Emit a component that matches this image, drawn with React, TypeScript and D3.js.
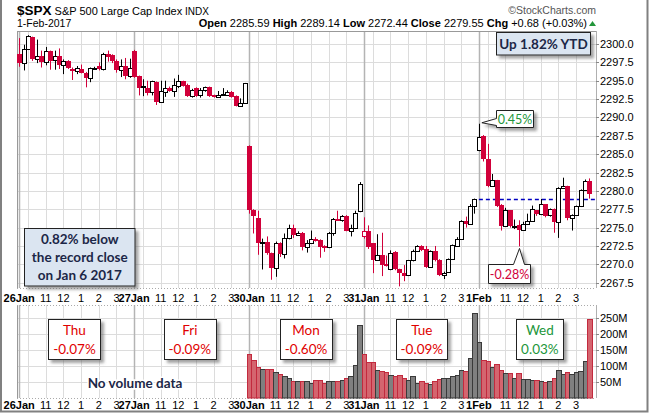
import React, { useEffect, useRef } from 'react';
import * as d3 from 'd3';

// 15-minute bars, 26 per session, 26 Jan 2017 - 1 Feb 2017
const opens = [
  2298.6, 2297.4, 2299.3, 2300.9, 2297.9, 2298.4, 2297.6, 2299.0, 2297.8, 2298.4, 2297.1, 2297.7, 2296.6,
  2296.3, 2296.6, 2296.1, 2295.4, 2296.7, 2297.0, 2296.55, 2298.6, 2298.5, 2297.7, 2296.45, 2297.0, 2295.6,
  2299.1, 2295.6, 2294.3, 2294.0, 2293.4, 2294.8, 2292.1, 2293.5, 2294.05, 2293.6, 2294.3, 2294.95, 2294.4,
  2292.95, 2294.0, 2293.1, 2293.7, 2294.1, 2293.05, 2292.8, 2293.1, 2293.1, 2293.5, 2292.9, 2291.6, 2292.0,
  2286.1, 2277.4, 2276.3, 2272.9, 2273.1, 2271.5, 2269.55, 2272.9, 2271.45, 2273.6, 2274.9, 2274.05, 2274.3,
  2272.35, 2272.95, 2273.5, 2273.3, 2272.5, 2272.3, 2274.3, 2276.2, 2276.0, 2276.6, 2274.55, 2274.9, 2277.2,
  2273.9, 2274.6, 2272.9, 2270.6, 2271.3, 2270.0, 2269.4, 2271.7, 2269.3, 2268.8, 2268.5, 2270.55, 2271.8,
  2272.5, 2272.05, 2269.6, 2271.8, 2270.6, 2268.5, 2268.95, 2270.7, 2272.5, 2273.5, 2275.9, 2275.55, 2278.0,
  2285.59, 2287.5, 2284.4, 2280.7, 2281.45, 2278.05, 2275.2, 2277.35, 2275.2, 2275.4, 2274.7, 2275.55, 2275.9,
  2277.35, 2276.8, 2278.15, 2276.7, 2277.5, 2275.8, 2280.45, 2280.6, 2276.3, 2276.7, 2277.9, 2280.1, 2281.3,
];
const highs = [
  2300.8, 2299.9, 2301.2, 2301.0, 2300.6, 2299.1, 2299.6, 2299.1, 2299.1, 2299.4, 2297.9, 2297.8, 2296.8,
  2297.0, 2297.2, 2296.2, 2296.8, 2296.9, 2297.5, 2298.8, 2299.1, 2298.6, 2297.9, 2297.9, 2298.1, 2298.0,
  2299.2, 2295.7, 2295.2, 2295.0, 2295.0, 2294.9, 2295.0, 2295.0, 2294.2, 2295.3, 2295.8, 2295.0, 2294.6,
  2293.9, 2294.1, 2294.0, 2294.2, 2294.2, 2293.1, 2293.6, 2294.0, 2293.7, 2293.6, 2293.0, 2292.6, 2294.7,
  2286.2, 2277.5, 2277.3, 2273.5, 2273.8, 2271.6, 2273.1, 2273.0, 2274.2, 2275.4, 2275.4, 2274.5, 2274.4,
  2273.3, 2274.6, 2273.7, 2273.4, 2272.6, 2274.4, 2276.3, 2277.3, 2276.7, 2276.7, 2275.4, 2277.3, 2281.2,
  2276.4, 2275.3, 2272.9, 2274.1, 2274.3, 2271.2, 2271.9, 2271.8, 2269.4, 2269.9, 2270.6, 2272.0, 2272.6,
  2272.6, 2272.5, 2271.9, 2272.5, 2270.7, 2269.0, 2270.8, 2272.7, 2273.7, 2276.0, 2276.5, 2278.2, 2278.95,
  2289.14, 2287.6, 2286.4, 2282.3, 2281.5, 2278.2, 2277.7, 2277.4, 2276.1, 2276.0, 2275.8, 2276.9, 2278.0,
  2277.4, 2278.9, 2278.2, 2277.6, 2277.6, 2280.5, 2281.8, 2280.7, 2276.8, 2278.0, 2280.2, 2281.55, 2281.7,
];
const lows = [
  2296.9, 2296.4, 2299.2, 2297.7, 2297.4, 2296.8, 2297.1, 2296.5, 2296.5, 2296.6, 2295.9, 2296.6, 2295.1,
  2295.9, 2296.0, 2294.1, 2294.8, 2296.6, 2296.4, 2296.4, 2297.6, 2297.4, 2296.1, 2295.5, 2295.2, 2295.4,
  2295.4, 2293.0, 2292.9, 2293.0, 2293.0, 2291.7, 2292.0, 2292.8, 2293.5, 2292.8, 2294.0, 2294.2, 2292.8,
  2292.7, 2292.8, 2292.7, 2293.5, 2292.8, 2292.7, 2292.7, 2293.0, 2293.0, 2292.7, 2291.5, 2291.5, 2291.9,
  2276.9, 2274.2, 2271.3, 2269.3, 2271.3, 2267.9, 2268.3, 2271.0, 2270.8, 2273.4, 2273.6, 2273.9, 2271.9,
  2271.6, 2272.8, 2273.1, 2270.9, 2271.7, 2272.2, 2273.9, 2275.9, 2275.8, 2274.5, 2273.8, 2274.8, 2277.1,
  2273.5, 2272.1, 2268.8, 2270.5, 2268.4, 2269.7, 2269.2, 2269.2, 2267.0, 2267.7, 2268.4, 2270.4, 2271.7,
  2271.8, 2269.5, 2269.5, 2270.4, 2268.4, 2268.0, 2268.9, 2270.6, 2272.4, 2273.4, 2275.0, 2275.4, 2276.9,
  2285.4, 2284.0, 2280.5, 2280.6, 2277.8, 2274.6, 2275.1, 2275.0, 2274.8, 2272.44, 2274.6, 2275.4, 2275.8,
  2276.6, 2276.7, 2276.4, 2276.5, 2274.3, 2273.6, 2280.3, 2276.0, 2274.6, 2276.6, 2277.8, 2280.0, 2278.95,
];
const closes = [
  2297.4, 2299.3, 2301.1, 2297.9, 2298.3, 2297.6, 2299.0, 2297.7, 2298.3, 2297.1, 2297.7, 2296.7, 2296.3,
  2296.7, 2296.0, 2295.4, 2296.7, 2296.8, 2296.55, 2298.6, 2298.2, 2297.7, 2296.4, 2297.0, 2295.6, 2296.68,
  2295.5, 2294.0, 2294.0, 2293.3, 2294.9, 2292.1, 2293.6, 2294.0, 2293.6, 2294.4, 2294.95, 2294.3, 2292.95,
  2293.8, 2292.95, 2293.8, 2294.1, 2292.95, 2292.8, 2293.1, 2293.15, 2293.5, 2292.8, 2291.6, 2292.0, 2294.69,
  2277.45, 2276.6, 2272.9, 2273.0, 2271.5, 2269.55, 2272.9, 2271.45, 2273.6, 2274.9, 2274.05, 2274.3, 2272.35,
  2272.95, 2273.5, 2273.2, 2272.35, 2272.3, 2274.3, 2276.2, 2276.0, 2276.6, 2274.55, 2274.9, 2277.05, 2280.9,
  2274.6, 2272.3, 2270.6, 2271.3, 2269.95, 2269.8, 2271.6, 2269.3, 2268.8, 2268.4, 2270.55, 2271.8, 2272.5,
  2271.9, 2269.6, 2271.8, 2270.55, 2268.5, 2268.8, 2270.7, 2272.6, 2273.5, 2275.9, 2275.55, 2278.0, 2278.87,
  2287.3, 2284.3, 2280.7, 2281.45, 2277.9, 2275.2, 2277.35, 2275.2, 2275.25, 2274.7, 2275.55, 2275.9, 2277.5,
  2276.8, 2278.15, 2276.55, 2277.5, 2275.8, 2280.45, 2280.6, 2276.3, 2276.7, 2277.9, 2280.1, 2281.3, 2279.55,
];
const priorClose = 2298.37;

// volume (millions), only available from 30 Jan
const volumeStart = 52;
const volumes = [
  137, 118, 98, 92, 90, 90, 80, 76, 68, 62, 54, 54, 54, 54, 48, 57, 57, 46, 53, 53, 53, 56, 61, 69, 102, 228,
  137, 112, 112, 89, 85, 80, 71, 69, 71, 61, 56, 69, 46, 53, 48, 43, 53, 58, 63, 64, 69, 71, 89, 85, 124, 265,
  174, 119, 116, 96, 105, 89, 77, 77, 64, 77, 58, 58, 56, 56, 53, 49, 53, 61, 87, 74, 80, 74, 82, 84, 116, 246,
];

const dayLabels = ['26Jan', '27Jan', '30Jan', '31Jan', '1Feb'];
const hourLabels = ['11', '12', '1', '2', '3'];
const hourBars = [6, 10, 14, 18, 22];
const gridBars = [2, 6, 10, 14, 18, 22];
const priceTicks = d3.range(2267.5, 2300.01, 2.5);
const volumeTicks = [50, 100, 150, 200, 250];

const dayNames = ['Thu', 'Fri', 'Mon', 'Tue', 'Wed'];
const dayChanges = ['-0.07%', '-0.09%', '-0.60%', '-0.09%', '0.03%'];
const dayNoteBars = [13.0, 39.1, 65.4, 91.6, 118.3];
const dayNoteWidths = [52, 52, 52, 51, 47];
const recordNote = ['0.82% below', 'the record close', 'on Jan 6 2017'];
const ytdNote = 'Up 1.82% YTD';
const highNote = '0.45%';
const lowNote = '-0.28%';

const BARS_PER_DAY = 26;
const RED = '#d1003a';
const GREEN = '#22963a';
const NAVY = '#1c2747';
const AXIS_FONT = "'Liberation Sans', Arial, sans-serif";
const NOTE_FONT = "Lato, 'Open Sans', sans-serif";

const App: React.FC = () => {
  const svgRef = useRef<SVGSVGElement>(null);

  useEffect(() => {
    if (!svgRef.current) return;
    d3.select(svgRef.current).selectAll('*').remove();

    const width = 650;
    const height = 415;
    const left = 17;
    const right = 596;
    const priceTop = 31;
    const priceBottom = 288;
    const volTop = 305;
    const volBottom = 398;
    const n = closes.length;

    const svg = d3.select(svgRef.current).attr('width', width).attr('height', height);

    const defs = svg.append('defs');
    const f = defs.append('filter').attr('id', 'shadow').attr('x', '-20%').attr('y', '-20%').attr('width', '150%').attr('height', '160%');
    f.append('feDropShadow').attr('dx', 3).attr('dy', 3).attr('stdDeviation', 1.5)
      .attr('flood-color', '#666').attr('flood-opacity', 0.6);

    svg.append('rect').attr('width', width).attr('height', height).attr('fill', '#fff');

    const x = d3.scaleLinear().domain([0, n + 1]).range([left, right]);
    const cx = (i: number) => x(i + 0.5);
    const y = d3.scaleLinear().domain([2267.5, 2300]).range([282.7, 44]);
    const yv = d3.scaleLinear().domain([0, 250]).range([volBottom, 318]);

    // ---- grid ----
    const grid = svg.append('g');
    const panels = [[priceTop, priceBottom], [volTop, volBottom]];
    priceTicks.forEach(t => {
      grid.append('line').attr('x1', left).attr('x2', right)
        .attr('y1', Math.round(y(t)) + 0.5).attr('y2', Math.round(y(t)) + 0.5)
        .attr('stroke', '#dcdcdc');
    });
    volumeTicks.forEach(t => {
      grid.append('line').attr('x1', left).attr('x2', right)
        .attr('y1', Math.round(yv(t)) + 0.5).attr('y2', Math.round(yv(t)) + 0.5)
        .attr('stroke', '#dcdcdc');
    });
    dayLabels.forEach((_, d) => {
      gridBars.forEach(b => {
        const gx = Math.round(cx(d * BARS_PER_DAY + b)) + 0.5;
        panels.forEach(([t, btm]) => {
          grid.append('line').attr('x1', gx).attr('x2', gx).attr('y1', t).attr('y2', btm).attr('stroke', '#dcdcdc');
        });
      });
      const dx = Math.round(cx(d * BARS_PER_DAY)) + 0.5;
      panels.forEach(([t, btm]) => {
        grid.append('line').attr('x1', dx).attr('x2', dx).attr('y1', t).attr('y2', btm)
          .attr('stroke', '#b4b4b4').attr('stroke-width', 1.5);
      });
    });

    // ---- panel borders ----
    const borders = svg.append('g').attr('fill', 'none');
    borders.append('line').attr('x1', left).attr('x2', right).attr('y1', priceTop + 0.5).attr('y2', priceTop + 0.5).attr('stroke', '#999');
    [[priceTop, priceBottom], [volTop, volBottom]].forEach(([t, btm]) => {
      borders.append('line').attr('x1', left + 0.5).attr('x2', left + 0.5).attr('y1', t).attr('y2', btm).attr('stroke', '#999');
      borders.append('line').attr('x1', right + 0.5).attr('x2', right + 0.5).attr('y1', t).attr('y2', btm).attr('stroke', '#b0b0b0');
    });
    [priceBottom, volTop, volBottom].forEach(yy => {
      borders.append('line').attr('x1', left).attr('x2', right).attr('y1', yy + 0.5).attr('y2', yy + 0.5)
        .attr('stroke', '#aaa').attr('stroke-dasharray', '1,2');
    });

    // previous close line
    const pcY = Math.round(y(closes[4 * BARS_PER_DAY - 1])) + 0.5;
    svg.append('line').attr('x1', cx(4 * BARS_PER_DAY)).attr('x2', right).attr('y1', pcY).attr('y2', pcY)
      .attr('stroke', '#0000c0').attr('stroke-width', 1.3).attr('stroke-dasharray', '4,3');

    // ---- candles ----
    const cg = svg.append('g');
    d3.range(n).forEach(i => {
      const o = opens[i], c = closes[i];
      const pc = i === 0 ? priorClose : closes[i - 1];
      const col = c < pc ? RED : '#000';
      const hollow = c >= o;
      const xc = Math.round(cx(i));
      const x0 = xc - 2;
      cg.append('line').attr('x1', xc + 0.5).attr('x2', xc + 0.5)
        .attr('y1', y(highs[i])).attr('y2', y(lows[i])).attr('stroke', col);
      const top = Math.round(y(Math.max(o, c)));
      const bot = Math.round(y(Math.min(o, c)));
      if (hollow) {
        cg.append('rect').attr('x', x0 + 0.5).attr('y', top + 0.5).attr('width', 4)
          .attr('height', Math.max(1, bot - top)).attr('fill', '#fff').attr('stroke', col);
      } else {
        cg.append('rect').attr('x', x0).attr('y', top).attr('width', 5)
          .attr('height', Math.max(2, bot - top)).attr('fill', col);
      }
    });

    // ---- volume ----
    const vg = svg.append('g');
    volumes.forEach((v, k) => {
      const i = volumeStart + k;
      const up = closes[i] >= closes[i - 1];
      const x0 = Math.round(x(i)) + 0.5;
      const x1 = Math.round(x(i + 1)) + 0.5;
      const top = Math.round(yv(v)) + 0.5;
      vg.append('rect').attr('x', x0).attr('y', top).attr('width', x1 - x0).attr('height', volBottom - top)
        .attr('fill', up ? '#808080' : '#d4656f').attr('stroke', up ? '#3a3a3a' : '#c22a3e');
    });

    // ---- axes text ----
    const ax = svg.append('g').style('font-family', AXIS_FONT).style('font-size', '11px').attr('fill', '#000');
    priceTicks.forEach(t => {
      ax.append('line').attr('x1', right).attr('x2', right + 3).attr('y1', Math.round(y(t)) + 0.5).attr('y2', Math.round(y(t)) + 0.5).attr('stroke', '#888');
      ax.append('text').attr('x', 600).attr('y', y(t) + 4).text(d3.format('.1f')(t));
    });
    volumeTicks.forEach(t => {
      ax.append('line').attr('x1', right).attr('x2', right + 3).attr('y1', Math.round(yv(t)) + 0.5).attr('y2', Math.round(yv(t)) + 0.5).attr('stroke', '#888');
      ax.append('text').attr('x', 600).attr('y', yv(t) + 4).text(`${t}M`);
    });
    [301.5, 409].forEach(by => {
      dayLabels.forEach((lab, d) => {
        ax.append('text').attr('x', cx(d * BARS_PER_DAY)).attr('y', by).attr('text-anchor', 'middle')
          .attr('font-weight', 'bold').text(lab);
        hourBars.forEach((b, h) => {
          ax.append('text').attr('x', cx(d * BARS_PER_DAY + b)).attr('y', by).attr('text-anchor', 'middle')
            .text(hourLabels[h]);
        });
      });
    });

    // ---- header ----
    const hd = svg.append('g').style('font-family', AXIS_FONT);
    const t1 = hd.append('text').attr('x', 17).attr('y', 14.5);
    t1.append('tspan').attr('font-weight', 'bold').style('font-size', '13.5px').text('$SPX');
    t1.append('tspan').style('font-size', '11px').text(' S&P 500 Large Cap Index');
    t1.append('tspan').style('font-size', '10px').text('  INDX');
    hd.append('text').attr('x', right).attr('y', 14).attr('text-anchor', 'end').style('font-size', '10.5px')
      .attr('fill', '#555').text('\u00a9StockCharts.com');
    hd.append('text').attr('x', 17).attr('y', 27).style('font-size', '10.5px').text('1-Feb-2017');

    const day = d3.range(4 * BARS_PER_DAY, n);
    const dOpen = opens[day[0]];
    const dHigh = d3.max(day, i => highs[i]) as number;
    const dLow = d3.min(day, i => lows[i]) as number;
    const dClose = closes[n - 1];
    const chg = dClose - closes[day[0] - 1];
    const pct = (chg / closes[day[0] - 1]) * 100;
    const t2 = hd.append('text').attr('x', 587).attr('y', 27).attr('text-anchor', 'end').style('font-size', '11px');
    const f2 = d3.format('.2f');
    [['Open', f2(dOpen)], ['High', f2(dHigh)], ['Low', f2(dLow)], ['Close', f2(dClose)],
      ['Chg', `+${f2(chg)} (+${f2(pct)}%)`]].forEach(([k, v], j) => {
      t2.append('tspan').attr('font-weight', 'bold').text((j ? '  ' : '') + k + ' ');
      t2.append('tspan').text(v);
    });
    hd.append('path').attr('d', 'M589,26 L596,26 L592.5,21 Z').attr('fill', GREEN);

    // ---- annotations ----
    const notes = svg.append('g').style('font-family', NOTE_FONT);

    // record close box
    const rb = { x0: 24.5, y0: 228.5, w: 110.5, h: 57.5 };
    notes.append('rect').attr('x', rb.x0).attr('y', rb.y0).attr('width', rb.w).attr('height', rb.h)
      .attr('fill', '#dbe5f1').attr('stroke', '#222').attr('filter', 'url(#shadow)');
    recordNote.forEach((line, k) => {
      notes.append('text').attr('x', rb.x0 + rb.w / 2).attr('y', 244 + k * 18).attr('text-anchor', 'middle')
        .attr('font-weight', 'bold').style('font-size', '13.5px').attr('fill', NAVY).text(line);
    });

    // YTD box
    notes.append('rect').attr('x', 496.5).attr('y', 32.5).attr('width', 94).attr('height', 22.5)
      .attr('fill', '#dbe5f1').attr('stroke', '#222').attr('filter', 'url(#shadow)');
    notes.append('text').attr('x', 543.5).attr('y', 48.5).attr('text-anchor', 'middle').attr('font-weight', 'bold')
      .style('font-size', '13.5px').attr('fill', NAVY).text(ytdNote);

    // high callout
    const hiIdx = 4 * BARS_PER_DAY;
    const hx = cx(hiIdx) + 3, hy = y(highs[hiIdx]) - 1;
    const hb = { x0: 496.5, y0: 110.5, x1: 533.5, y1: 127.5 };
    notes.append('path')
      .attr('d', `M${hb.x0},${hb.y0} H${hb.x1} V${hb.y1} H${hb.x0} V${hb.y0 + 15} L${hx},${hy} L${hb.x0},${hb.y0 + 8} Z`)
      .attr('fill', '#fff').attr('stroke', '#222').attr('filter', 'url(#shadow)');
    notes.append('text').attr('x', (hb.x0 + hb.x1) / 2).attr('y', 124).attr('text-anchor', 'middle')
      .style('font-size', '12.5px').attr('fill', GREEN).text(highNote);

    // low callout
    const loIdx = day[d3.minIndex(day, i => lows[i])];
    const lx = Math.round(cx(loIdx)) + 0.5, ly = y(lows[loIdx]) + 2;
    const lb = { x0: 488.5, y0: 264.5, x1: 530.5, y1: 283.5 };
    notes.append('path')
      .attr('d', `M${lb.x0},${lb.y0} H${lx - 6} L${lx},${ly} L${lx + 5},${lb.y0} H${lb.x1} V${lb.y1} H${lb.x0} Z`)
      .attr('fill', '#fff').attr('stroke', '#222').attr('filter', 'url(#shadow)');
    notes.append('text').attr('x', (lb.x0 + lb.x1) / 2).attr('y', 278.5).attr('text-anchor', 'middle')
      .style('font-size', '12.5px').attr('fill', RED).text(lowNote);

    // daily change boxes
    dayNames.forEach((nm, d) => {
      const bx = x(dayNoteBars[d]);
      const w = dayNoteWidths[d];
      const col = dayChanges[d].startsWith('-') ? '#e00000' : GREEN;
      notes.append('rect').attr('x', Math.round(bx - w / 2) + 0.5).attr('y', 319.5).attr('width', w).attr('height', 40)
        .attr('fill', '#fff').attr('stroke', '#222').attr('filter', 'url(#shadow)');
      notes.append('text').attr('x', bx).attr('y', 335).attr('text-anchor', 'middle')
        .style('font-size', '13.5px').attr('fill', col).text(nm);
      notes.append('text').attr('x', bx).attr('y', 354).attr('text-anchor', 'middle')
        .style('font-size', '13.5px').attr('fill', col).text(dayChanges[d]);
    });

    notes.append('text').attr('x', 135).attr('y', 387.5).attr('text-anchor', 'middle').attr('font-weight', 'bold')
      .style('font-size', '13.5px').attr('fill', NAVY)
      .attr('stroke', '#fff').attr('stroke-width', 3).attr('paint-order', 'stroke')
      .text('No volume data');

    // outer frame
    svg.append('path').attr('d', `M1,0 V411.5 H647.5 V0`).attr('fill', 'none')
      .attr('stroke', '#808080').attr('stroke-width', 2);
  }, []);

  return <svg ref={svgRef} style={{ position: 'absolute', left: 0, top: 0, display: 'block' }} />;
};

export default App;
